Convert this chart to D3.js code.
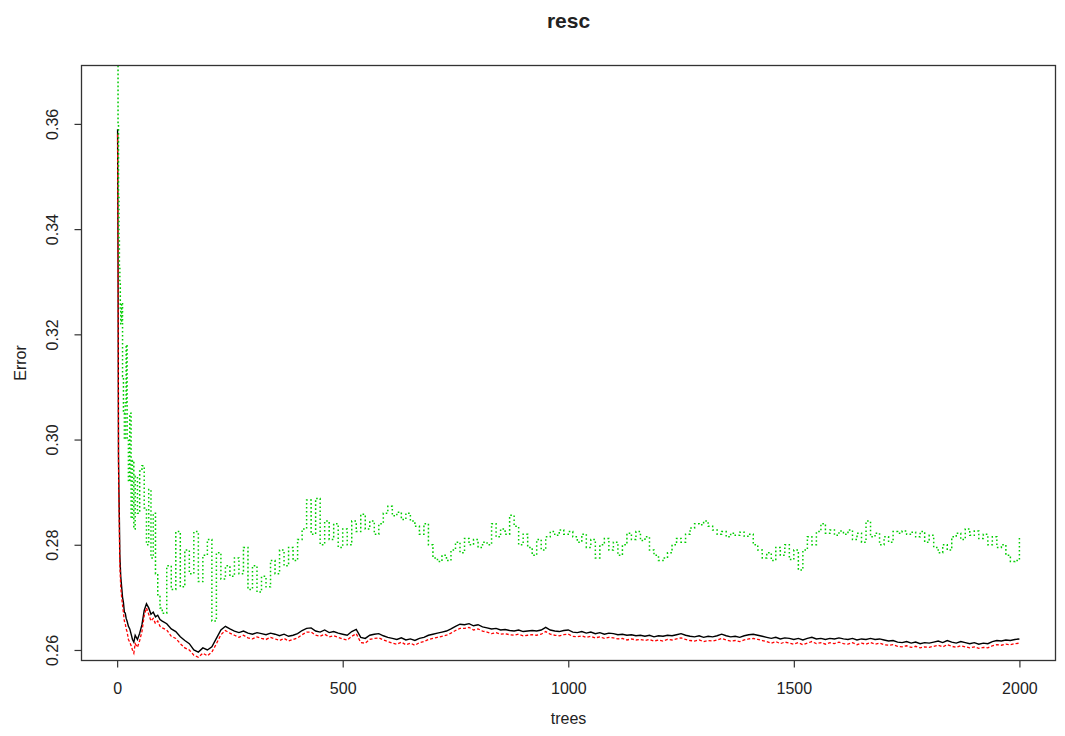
<!DOCTYPE html>
<html>
<head>
<meta charset="utf-8">
<script src="https://cdn.jsdelivr.net/npm/d3@7/dist/d3.min.js"></script>
<style>
  html, body { margin: 0; padding: 0; background: #fff; }
  svg { display: block; }
  text { font-family: "Liberation Sans", Arial, sans-serif; fill: #222; }
</style>
</head>
<body>
<svg id="chart" width="1065" height="736"></svg>
<script>
// ---------------- data ----------------
const chartTitle = "resc";
const xLabel = "trees";
const yLabel = "Error";
const xTicks = [0, 500, 1000, 1500, 2000];
const yTicks = [0.26, 0.28, 0.30, 0.32, 0.34, 0.36];
const seriesNames = ["OOB", "class1", "class2"];

const trees = [
  1, 2, 3, 4, 5, 6, 7, 8, 10, 12, 14, 16, 18, 20, 22, 25, 28, 31, 34, 37, 40, 45, 50, 55, 60, 65, 70, 75, 80, 85, 90, 95,
  100, 110, 120, 130, 140, 150, 160, 170, 180, 190, 200, 210, 220, 230, 240, 250, 260, 270, 280, 290,
  300, 310, 320, 330, 340, 350, 360, 370, 380, 390, 400, 410, 420, 430, 440, 450, 460, 470, 480, 490,
  500, 510, 520, 530, 540, 550, 560, 570, 580, 590, 600, 610, 620, 630, 640, 650, 660, 670, 680, 690,
  700, 710, 720, 730, 740, 750, 760, 770, 780, 790, 800, 810, 820, 830, 840, 850, 860, 870, 880, 890,
  900, 910, 920, 930, 940, 950, 960, 970, 980, 990, 1000, 1010, 1020, 1030, 1040, 1050, 1060, 1070, 1080, 1090,
  1100, 1110, 1120, 1130, 1140, 1150, 1160, 1170, 1180, 1190, 1200, 1210, 1220, 1230, 1240, 1250, 1260, 1270, 1280, 1290,
  1300, 1310, 1320, 1330, 1340, 1350, 1360, 1370, 1380, 1390, 1400, 1410, 1420, 1430, 1440, 1450, 1460, 1470, 1480, 1490,
  1500, 1510, 1520, 1530, 1540, 1550, 1560, 1570, 1580, 1590, 1600, 1610, 1620, 1630, 1640, 1650, 1660, 1670, 1680, 1690,
  1700, 1710, 1720, 1730, 1740, 1750, 1760, 1770, 1780, 1790, 1800, 1810, 1820, 1830, 1840, 1850, 1860, 1870, 1880, 1890,
  1900, 1910, 1920, 1930, 1940, 1950, 1960, 1970, 1980, 1990, 2000
];

// OOB error (black, solid)
const oobError = [
  0.3590, 0.3340, 0.2970, 0.2900, 0.2845, 0.2780, 0.2760, 0.2740, 0.2720, 0.2700, 0.2690, 0.2672, 0.2670, 0.2660, 0.2655, 0.2645,
  0.2640, 0.2630, 0.2620, 0.2615, 0.2628, 0.2620, 0.2632, 0.2648, 0.2675, 0.2688, 0.2680, 0.2668, 0.2672, 0.2663, 0.2666, 0.2658,
  0.2655, 0.2650, 0.2640, 0.2635, 0.2625, 0.2618, 0.2612, 0.2600, 0.2596, 0.2604, 0.2600, 0.2606, 0.2622, 0.2638, 0.2645, 0.2640, 0.2636, 0.2633, 0.2636, 0.2632,
  0.2630, 0.2633, 0.2631, 0.2629, 0.2632, 0.2630, 0.2627, 0.2630, 0.2626, 0.2628, 0.2631, 0.2637, 0.2641, 0.2642, 0.2636, 0.2634, 0.2638, 0.2633, 0.2635, 0.2632,
  0.2630, 0.2628, 0.2635, 0.2639, 0.2624, 0.2622, 0.2628, 0.2630, 0.2631, 0.2627, 0.2624, 0.2622, 0.2620, 0.2623, 0.2619, 0.2621, 0.2618, 0.2622, 0.2624, 0.2628,
  0.2630, 0.2632, 0.2634, 0.2636, 0.2640, 0.2645, 0.2649, 0.2648, 0.2650, 0.2646, 0.2648, 0.2644, 0.2642, 0.2640, 0.2641, 0.2638, 0.2639, 0.2637, 0.2636, 0.2638,
  0.2635, 0.2636, 0.2637, 0.2636, 0.2638, 0.2643, 0.2638, 0.2636, 0.2635, 0.2637, 0.2638, 0.2634, 0.2633, 0.2635, 0.2632, 0.2634, 0.2631, 0.2633, 0.2630, 0.2632,
  0.2631, 0.2629, 0.2630, 0.2628, 0.2629, 0.2627, 0.2628, 0.2626, 0.2628, 0.2625, 0.2627, 0.2626, 0.2628, 0.2627, 0.2629, 0.2631, 0.2628, 0.2626, 0.2625, 0.2627,
  0.2624, 0.2626, 0.2625, 0.2627, 0.2630, 0.2627, 0.2625, 0.2626, 0.2624, 0.2627, 0.2629, 0.2630, 0.2628, 0.2626, 0.2624, 0.2622, 0.2624, 0.2621, 0.2623, 0.2622,
  0.2620, 0.2622, 0.2619, 0.2622, 0.2624, 0.2621, 0.2622, 0.2620, 0.2622, 0.2621, 0.2623, 0.2621, 0.2620, 0.2622, 0.2619, 0.2621, 0.2620, 0.2622, 0.2620, 0.2621,
  0.2619, 0.2617, 0.2618, 0.2615, 0.2614, 0.2616, 0.2613, 0.2615, 0.2612, 0.2614, 0.2613, 0.2615, 0.2617, 0.2614, 0.2618, 0.2615, 0.2613, 0.2616, 0.2614, 0.2612,
  0.2614, 0.2611, 0.2613, 0.2612, 0.2616, 0.2618, 0.2617, 0.2619, 0.2618, 0.2620, 0.2621
];

// class 1 error (red, dashed)
const class1Error = [
  0.3580, 0.3300, 0.2950, 0.2880, 0.2820, 0.2760, 0.2740, 0.2720, 0.2700, 0.2685, 0.2670, 0.2655, 0.2650, 0.2640, 0.2635, 0.2620,
  0.2615, 0.2608, 0.2600, 0.2594, 0.2612, 0.2605, 0.2618, 0.2635, 0.2665, 0.2680, 0.2668, 0.2655, 0.2660, 0.2650, 0.2655, 0.2645,
  0.2642, 0.2638, 0.2626, 0.2622, 0.2612, 0.2604, 0.2600, 0.2590, 0.2586, 0.2594, 0.2589, 0.2596, 0.2612, 0.2629, 0.2637, 0.2632, 0.2628, 0.2624, 0.2628, 0.2623,
  0.2621, 0.2625, 0.2622, 0.2620, 0.2624, 0.2621, 0.2618, 0.2622, 0.2617, 0.2620, 0.2623, 0.2629, 0.2634, 0.2634, 0.2628, 0.2626, 0.2630, 0.2625, 0.2627, 0.2624,
  0.2621, 0.2619, 0.2626, 0.2631, 0.2614, 0.2613, 0.2620, 0.2622, 0.2623, 0.2619, 0.2616, 0.2613, 0.2611, 0.2615, 0.2610, 0.2613, 0.2609, 0.2614, 0.2616, 0.2620,
  0.2622, 0.2624, 0.2626, 0.2628, 0.2632, 0.2637, 0.2641, 0.2641, 0.2643, 0.2638, 0.2640, 0.2636, 0.2634, 0.2631, 0.2633, 0.2630, 0.2631, 0.2629, 0.2628, 0.2630,
  0.2627, 0.2628, 0.2629, 0.2628, 0.2630, 0.2635, 0.2630, 0.2628, 0.2627, 0.2629, 0.2630, 0.2626, 0.2625, 0.2627, 0.2624, 0.2626, 0.2623, 0.2625, 0.2622, 0.2624,
  0.2623, 0.2621, 0.2622, 0.2619, 0.2621, 0.2619, 0.2620, 0.2618, 0.2620, 0.2617, 0.2619, 0.2617, 0.2620, 0.2619, 0.2621, 0.2623, 0.2620, 0.2618, 0.2617, 0.2619,
  0.2616, 0.2618, 0.2617, 0.2619, 0.2622, 0.2619, 0.2617, 0.2618, 0.2616, 0.2619, 0.2621, 0.2622, 0.2620, 0.2618, 0.2616, 0.2613, 0.2616, 0.2612, 0.2615, 0.2613,
  0.2611, 0.2614, 0.2610, 0.2613, 0.2616, 0.2612, 0.2614, 0.2611, 0.2614, 0.2612, 0.2615, 0.2612, 0.2611, 0.2614, 0.2610, 0.2613, 0.2611, 0.2614, 0.2611, 0.2613,
  0.2610, 0.2609, 0.2610, 0.2607, 0.2606, 0.2608, 0.2605, 0.2607, 0.2604, 0.2606, 0.2605, 0.2607, 0.2609, 0.2606, 0.2610, 0.2607, 0.2605, 0.2608, 0.2606, 0.2604,
  0.2606, 0.2603, 0.2605, 0.2604, 0.2608, 0.2610, 0.2609, 0.2611, 0.2610, 0.2612, 0.2613
];

// class 2 error (green, dotted)
const class2Error = [
  0.3710, 0.3600, 0.3460, 0.3380, 0.3330, 0.3300, 0.3250, 0.3220, 0.3260, 0.3120, 0.3050, 0.3000, 0.3070, 0.3180, 0.3000, 0.2920,
  0.3050, 0.2850, 0.2960, 0.2830, 0.2930, 0.2860, 0.2940, 0.2950, 0.2870, 0.2800, 0.2905, 0.2775, 0.2860, 0.2745, 0.2705, 0.2680,
  0.2670, 0.2760, 0.2715, 0.2825, 0.2720, 0.2790, 0.2745, 0.2825, 0.2730, 0.2780, 0.2810, 0.2655, 0.2785, 0.2735, 0.2760, 0.2740, 0.2775, 0.2745, 0.2795, 0.2715,
  0.2760, 0.2710, 0.2740, 0.2720, 0.2770, 0.2745, 0.2790, 0.2760, 0.2795, 0.2770, 0.2810, 0.2830, 0.2885, 0.2820, 0.2888, 0.2800, 0.2845, 0.2810, 0.2840, 0.2795,
  0.2830, 0.2800, 0.2845, 0.2825, 0.2858, 0.2830, 0.2845, 0.2820, 0.2840, 0.2860, 0.2873, 0.2855, 0.2862, 0.2848, 0.2860, 0.2845, 0.2835, 0.2820, 0.2840, 0.2800,
  0.2775, 0.2768, 0.2780, 0.2770, 0.2790, 0.2805, 0.2785, 0.2812, 0.2800, 0.2810, 0.2795, 0.2805, 0.2800, 0.2840, 0.2815, 0.2830, 0.2820, 0.2856, 0.2835, 0.2800,
  0.2820, 0.2795, 0.2780, 0.2810, 0.2790, 0.2815, 0.2825, 0.2818, 0.2828, 0.2820, 0.2825, 0.2815, 0.2805, 0.2820, 0.2795, 0.2810, 0.2775, 0.2800, 0.2812, 0.2790,
  0.2805, 0.2780, 0.2800, 0.2822, 0.2810, 0.2825, 0.2808, 0.2815, 0.2790, 0.2780, 0.2770, 0.2775, 0.2785, 0.2800, 0.2812, 0.2805, 0.2820, 0.2832, 0.2840, 0.2838,
  0.2845, 0.2835, 0.2828, 0.2820, 0.2825, 0.2815, 0.2822, 0.2818, 0.2824, 0.2816, 0.2820, 0.2800, 0.2790, 0.2775, 0.2785, 0.2770, 0.2795, 0.2780, 0.2800, 0.2772,
  0.2790, 0.2752, 0.2790, 0.2815, 0.2800, 0.2825, 0.2840, 0.2822, 0.2828, 0.2818, 0.2826, 0.2820, 0.2828, 0.2810, 0.2822, 0.2805, 0.2845, 0.2815, 0.2822, 0.2800,
  0.2815, 0.2805, 0.2825, 0.2822, 0.2826, 0.2820, 0.2824, 0.2815, 0.2825, 0.2805, 0.2818, 0.2795, 0.2785, 0.2800, 0.2790, 0.2815, 0.2822, 0.2810, 0.2830, 0.2818,
  0.2826, 0.2812, 0.2820, 0.2800, 0.2815, 0.2795, 0.2800, 0.2780, 0.2768, 0.2770, 0.2815
];

const seriesColors = ["#000000", "#ff0000", "#00cd00"];
// ---------------- layout ----------------
const W = 1065, H = 736;
const plot = { left: 81.5, right: 1055.5, top: 65.5, bottom: 660.5 };

const svg = d3.select("#chart");
svg.append("rect").attr("width", W).attr("height", H).attr("fill", "#fff");

const x = d3.scaleLinear().domain([-79, 2080]).range([plot.left, plot.right]);
const y = d3.scaleLinear().domain([0.258, 0.3711]).range([plot.bottom, plot.top]);

svg.append("defs").append("clipPath").attr("id", "clip")
  .append("rect")
  .attr("x", plot.left).attr("y", plot.top)
  .attr("width", plot.right - plot.left).attr("height", plot.bottom - plot.top);

const series = [
  { name: seriesNames[0], values: oobError, color: seriesColors[0], dash: null, width: 1.4, curve: d3.curveLinear },
  { name: seriesNames[1], values: class1Error, color: seriesColors[1], dash: "3,2", width: 1.3, curve: d3.curveLinear },
  { name: seriesNames[2], values: class2Error, color: seriesColors[2], dash: "1.6,2.4", width: 1.5, curve: d3.curveStepAfter }
];

const gLines = svg.append("g").attr("clip-path", "url(#clip)");
series.forEach(s => {
  const n = Math.min(trees.length, s.values.length);
  const pts = d3.range(n).map(i => [trees[i], s.values[i]]);
  const line = d3.line().x(d => x(d[0])).y(d => y(d[1])).curve(s.curve);
  gLines.append("path")
    .datum(pts)
    .attr("fill", "none")
    .attr("stroke", s.color)
    .attr("stroke-width", s.width)
    .attr("stroke-dasharray", s.dash)
    .attr("d", line);
});

// axes
const xAxis = svg.append("g")
  .attr("transform", `translate(0,${plot.bottom})`)
  .call(d3.axisBottom(x).tickValues(xTicks).tickSize(7).tickFormat(d3.format("d")));
xAxis.select(".domain").remove();
xAxis.selectAll(".tick line").attr("stroke", "#333").attr("stroke-width", 1.2);
xAxis.selectAll(".tick text")
  .attr("y", 22).attr("dy", "0.71em")
  .style("font-size", "16px").attr("fill", "#222");

const yAxis = svg.append("g")
  .attr("transform", `translate(${plot.left},0)`)
  .call(d3.axisLeft(y).tickValues(yTicks).tickSize(7).tickFormat(d3.format(".2f")));
yAxis.select(".domain").remove();
yAxis.selectAll(".tick line").attr("stroke", "#333").attr("stroke-width", 1.2);
yAxis.selectAll(".tick text")
  .attr("transform", "rotate(-90)")
  .attr("x", 0).attr("y", -24).attr("dy", 0)
  .attr("text-anchor", "middle")
  .style("font-size", "16px").attr("fill", "#222");

// plot box
svg.append("rect")
  .attr("x", plot.left).attr("y", plot.top)
  .attr("width", plot.right - plot.left).attr("height", plot.bottom - plot.top)
  .attr("fill", "none").attr("stroke", "#333").attr("stroke-width", 1.3);

// title and labels
svg.append("text")
  .attr("x", (plot.left + plot.right) / 2).attr("y", 28)
  .attr("text-anchor", "middle")
  .style("font-size", "21px").style("font-weight", "bold").attr("fill", "#111")
  .text(chartTitle);

svg.append("text")
  .attr("x", (plot.left + plot.right) / 2).attr("y", 724)
  .attr("text-anchor", "middle")
  .style("font-size", "16px")
  .text(xLabel);

svg.append("text")
  .attr("transform", `translate(26,${(plot.top + plot.bottom) / 2}) rotate(-90)`)
  .attr("text-anchor", "middle")
  .style("font-size", "16px")
  .text(yLabel);
</script>
</body>
</html>
